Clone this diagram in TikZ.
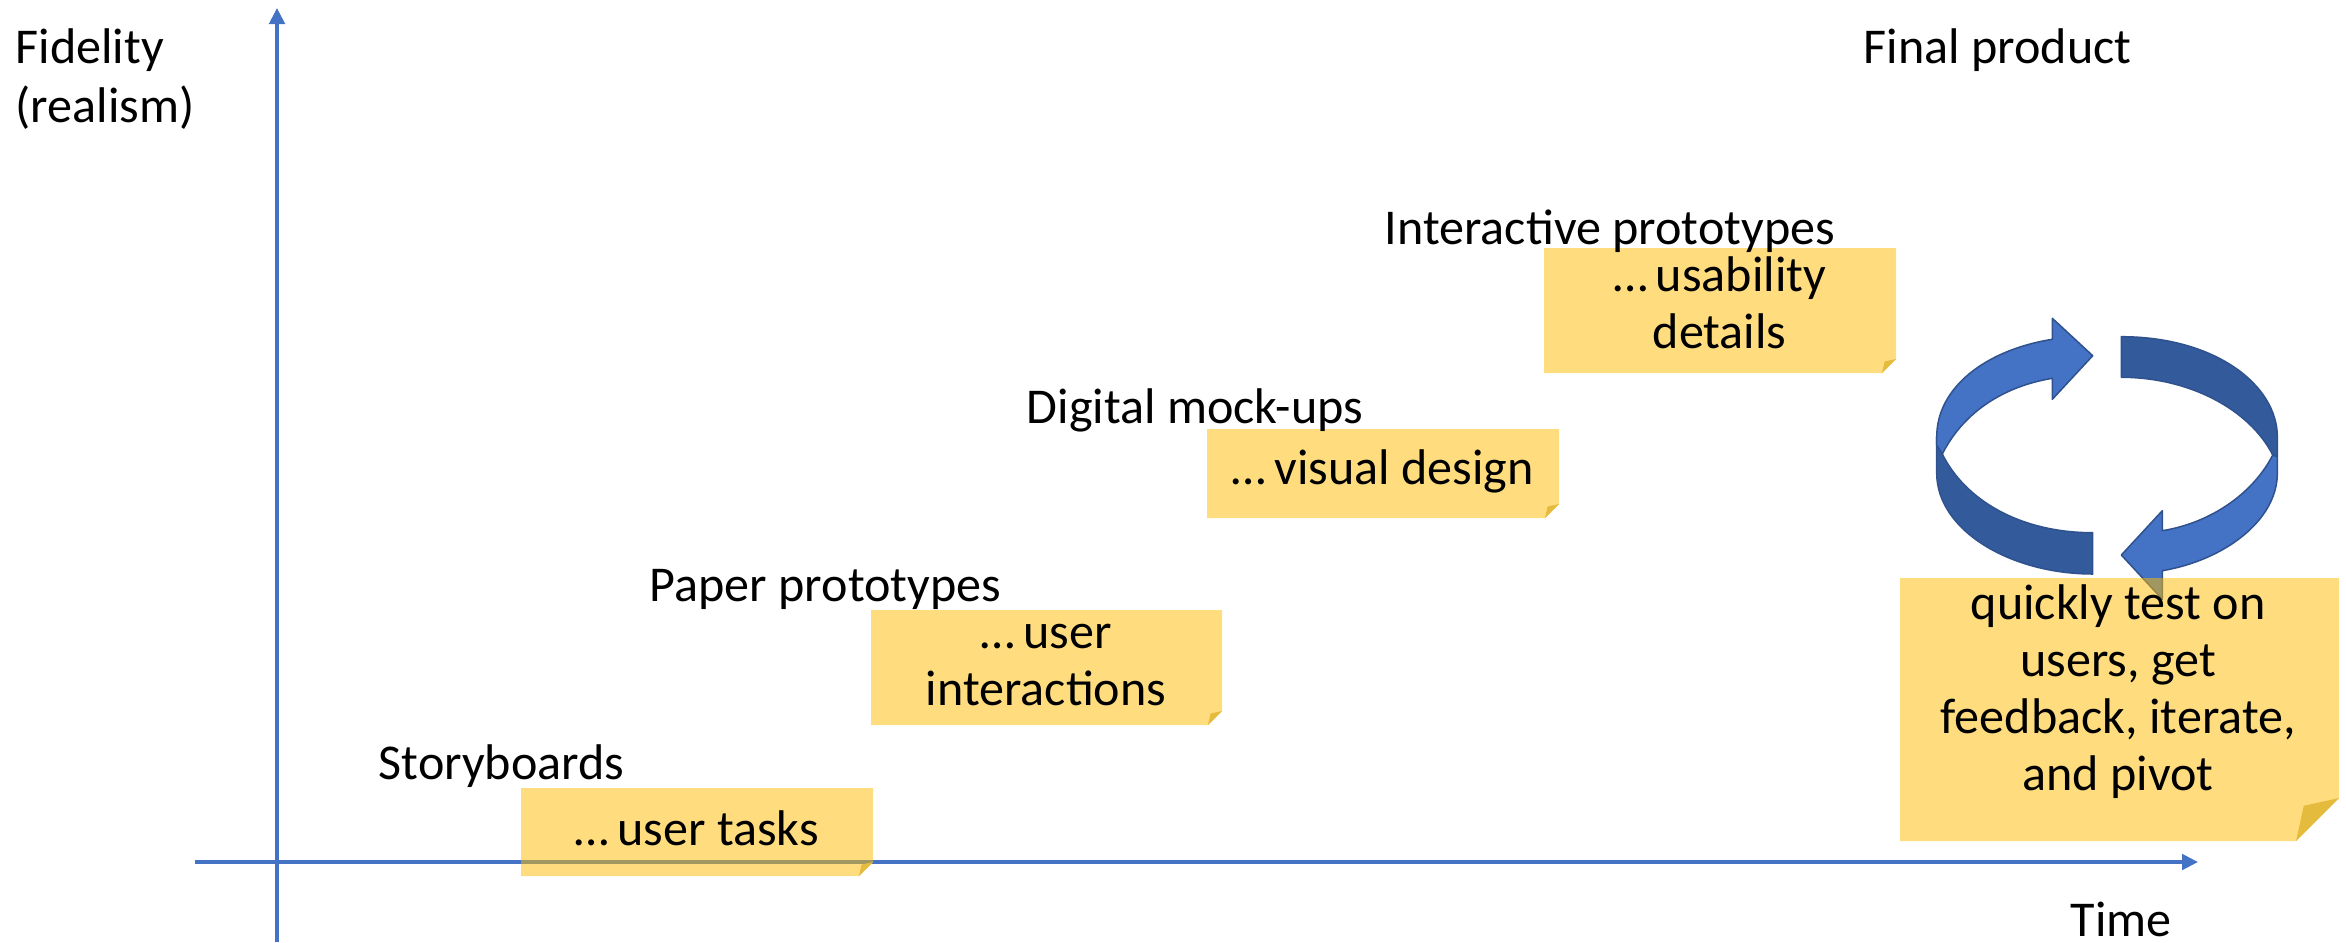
\documentclass[tikz,border=0pt]{standalone}
\usepackage{fontspec}
\setmainfont{Carlito}
\usetikzlibrary{arrows.meta}
\definecolor{axisblue}{HTML}{4472C4}
\definecolor{arrowdark}{HTML}{335A9B}
\definecolor{arrowedge}{HTML}{2F528F}
\definecolor{notegold}{HTML}{FFBC00}
\definecolor{foldgold}{HTML}{E5BB3E}
\tikzset{
	axisline/.style={draw=axisblue,line width=0.035cm,-{Triangle[length=0.16cm,width=0.155cm]}},
	label/.style={anchor=base west,inner sep=0pt,font=\fontsize{14.25}{16.7}\selectfont,align=left},
	notetext/.style={inner sep=0pt,font=\fontsize{14.25}{16.2}\selectfont,align=center},
	looplight/.style={fill=axisblue,draw=arrowedge,line width=0.015cm,line join=round},
	loopdark/.style={fill=arrowdark,draw=arrowedge,line width=0.015cm,line join=round},
}
% name, left, top, right, bottom, fold size, text height, text
\def\stickynote[#1](#2,#3,#4,#5)(#6:#7)#8{
	\fill[notegold,fill opacity=0.5] (#2,#3) -- (#4,#3) -- (#4,#5-#6) -- (#4-#6,#5) -- (#2,#5) -- cycle;
	\fill[foldgold] (#4,#5-#6) -- (#4-#6*0.82,#5-#6*0.82) -- (#4-#6,#5) -- cycle;
	\node[notetext] (#1) at ({(#2+#4)/2-#6*0.03},#7) {#8};
}

\begin{document}
\begin{tikzpicture}[x=0.01cm,y=-0.01cm]
	%%%%% START %%%%%
	\def\small{14}
	\def\large{43}
	\useasboundingbox (0,0) rectangle (2346,942);

	% axes
	\coordinate (yfoot) at (277,942);
	\coordinate (ytip) at (277,8);
	\coordinate (xfoot) at (195,862);
	\coordinate (xtip) at (2198,862);
	\draw[axisline] (yfoot) -- (ytip);
	\draw[axisline] (xfoot) -- (xtip);

	\node[label] (fidelity) at (15,122) {Fidelity\\(realism)};
	\node[label] (time) at (2070,936) {Time};
	\node[label] (final) at (1863,63) {Final product};

	% loop arrows
	\draw[loopdark] (2121.3,336.7) .. controls (2215,336.7) and (2277.3,385) .. (2277.3,436.7) -- (2277.3,456.7) -- (2272.7,455) .. controls (2250,410) and (2190,377.3) .. (2121.3,377.3) -- cycle;
	\draw[loopdark] (1936.7,436.7) -- (1936.7,473.3) .. controls (1936.7,530) and (2010,574) .. (2092.7,574) -- (2092.7,532.7) .. controls (2020,532.7) and (1965,500) .. (1942.3,454) -- cycle;
	\draw[looplight] (1936.7,445) -- (1936.7,436.7) .. controls (1936.7,388) and (1985,350) .. (2052.3,339.3) -- (2052.3,318.3) -- (2092.7,355.7) -- (2052.3,399.3) -- (2052.3,378.3) .. controls (2000,387) and (1962,415) .. (1942.3,454) -- cycle;
	\draw[looplight] (2277.3,456.7) -- (2277.3,473.3) .. controls (2277.3,520) and (2225,560) .. (2162.3,570.7) -- (2162.3,599.3) -- (2121.3,555) -- (2162.3,510.7) -- (2162.3,530.7) .. controls (2215,522) and (2255,490) .. (2272.7,455) -- cycle;

	% notes
	\stickynote[tasks](521,788,873,876)(\small:828){\dots\,user tasks}
	\stickynote[interactions](871,610,1222,725)(\small:665){\dots\,user\\interactions}
	\stickynote[visual](1207,429,1559,518)(\small:471){\dots\,visual design}
	\stickynote[usability](1544,248,1896,373)(\small:303){\dots\,usability\\details}
	\stickynote[feedback](1900,578,2339,841)(\large:692){quickly test on\\users, get\\feedback, iterate,\\and pivot}

	\node[label] (story) at (378,779) {Storyboards};
	\node[label] (paper) at (649,601) {Paper prototypes};
	\node[label] (digital) at (1026,423) {Digital mock-ups};
	\node[label] (prototypes) at (1384,244) {Interactive prototypes};
	%%%%% START %%%%%
\end{tikzpicture}
\end{document}
